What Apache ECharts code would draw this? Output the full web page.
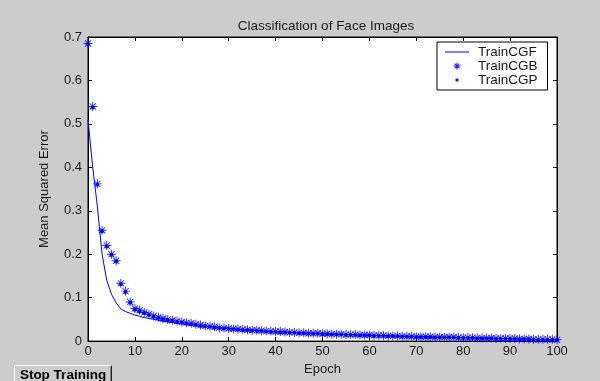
<!DOCTYPE html>
<html><head><meta charset="utf-8">
<script src="https://cdn.jsdelivr.net/npm/echarts@6/dist/echarts.min.js"></script>
<style>html,body{margin:0;padding:0;background:#cccccc}#c{width:600px;height:381px}</style>
</head><body><div id="c"></div>
<script>
const title = "Classification of Face Images";
const xName = "Epoch";
const yName = "Mean Squared Error";
const seriesNames = ["TrainCGF", "TrainCGB", "TrainCGP"];
const epochs = Array.from({length: 101}, (_, i) => i);
const cgf = [0.510,0.400,0.310,0.200,0.140,0.108,0.088,0.074,0.068,0.064,
0.060,0.057,0.054,0.052,0.050,0.048,0.046,0.044,0.043,0.041,
0.040,0.039,0.038,0.036,0.035,0.034,0.033,0.032,0.031,0.030,
0.029,0.028,0.027,0.026,0.026,0.025,0.024,0.024,0.023,0.022,
0.022,0.021,0.021,0.020,0.020,0.019,0.019,0.018,0.018,0.017,
0.017,0.017,0.016,0.016,0.015,0.015,0.015,0.014,0.014,0.014,
0.013,0.013,0.013,0.012,0.012,0.012,0.011,0.011,0.011,0.010,
0.010,0.010,0.010,0.009,0.009,0.009,0.009,0.008,0.008,0.008,
0.008,0.007,0.007,0.007,0.007,0.007,0.006,0.006,0.006,0.006,
0.005,0.005,0.005,0.005,0.004,0.004,0.004,0.004,0.003,0.003,0.003];
const cgb = [0.685,0.540,0.362,0.255,0.220,0.200,0.185,0.133,0.115,0.090,
0.075,0.071,0.066,0.062,0.058,0.055,0.052,0.050,0.048,0.046,
0.044,0.042,0.041,0.039,0.037,0.035,0.034,0.033,0.031,0.030,
0.029,0.028,0.028,0.027,0.026,0.025,0.025,0.024,0.023,0.023,
0.022,0.022,0.021,0.020,0.020,0.019,0.019,0.018,0.018,0.018,
0.017,0.017,0.016,0.016,0.016,0.015,0.015,0.015,0.014,0.014,
0.014,0.013,0.013,0.013,0.012,0.012,0.012,0.011,0.011,0.011,
0.010,0.010,0.010,0.010,0.009,0.009,0.009,0.009,0.009,0.008,
0.008,0.008,0.008,0.007,0.007,0.007,0.007,0.006,0.006,0.006,
0.006,0.006,0.005,0.005,0.005,0.004,0.004,0.004,0.004,0.004,0.003];
const cgp = [0.683,0.538,0.360,0.253,0.218,0.198,0.183,0.131,0.113,0.088,
0.072,0.068,0.064,0.060,0.056,0.053,0.050,0.048,0.046,0.044,
0.042,0.040,0.039,0.037,0.035,0.034,0.033,0.031,0.030,0.029,
0.028,0.027,0.026,0.025,0.025,0.024,0.023,0.023,0.022,0.021,
0.021,0.020,0.020,0.019,0.019,0.018,0.018,0.017,0.017,0.017,
0.016,0.016,0.015,0.015,0.015,0.014,0.014,0.014,0.013,0.013,
0.013,0.012,0.012,0.012,0.011,0.011,0.011,0.010,0.010,0.010,
0.009,0.009,0.009,0.009,0.008,0.008,0.008,0.008,0.008,0.007,
0.007,0.007,0.007,0.006,0.006,0.006,0.006,0.005,0.005,0.005,
0.005,0.005,0.004,0.004,0.004,0.003,0.003,0.003,0.003,0.003,0.002];
const xTicks = [0,10,20,30,40,50,60,70,80,90,100];
const yTicks = [0,0.1,0.2,0.3,0.4,0.5,0.6,0.7];

const star = 'path://M0 4.5 H10 V5.5 H0 Z M4.5 0 H5.5 V10 H4.5 Z M1.9 1.2 L8.8 8.1 L8.1 8.8 L1.2 1.9 Z M8.1 1.2 L8.8 1.9 L1.9 8.8 L1.2 8.1 Z';
const legLine = 'path://M0 4.5 H24 V5.5 H0 Z M0 0 L0.01 0 L0 0.01 Z M24 10 L23.99 10 L24 9.99 Z';
const legStar = 'path://M0 0 L0.01 0 L0 0.01 Z M10 10 L9.99 10 L10 9.99 Z M1.5 4.5 H8.5 V5.5 H1.5 Z M4.5 1.5 H5.5 V8.5 H4.5 Z M2.9 2.2 L7.8 7.1 L7.1 7.8 L2.2 2.9 Z M7.1 2.2 L7.8 2.9 L2.9 7.8 L2.2 7.1 Z';
const legDot = 'path://M0 0 L0.01 0 L0 0.01 Z M10 10 L9.99 10 L10 9.99 Z M5 3.3 A1.7 1.7 0 1 1 5 6.7 A1.7 1.7 0 1 1 5 3.3 Z';
const blue = '#0000ff';
const font = 'Liberation Sans, Arial, sans-serif';
const txt = '#1a1a1a';

const pair = (a) => epochs.map((e, i) => [e, a[i]]);
const chart = echarts.init(document.getElementById('c'), null, {renderer: 'canvas'});
const axX = (pos, showLabel) => ({
  type: 'value', position: pos, min: 0, max: 100, interval: 10,
  name: showLabel ? xName : '', nameLocation: 'middle', nameGap: 20,
  nameTextStyle: {color: txt, fontFamily: font, fontSize: 13},
  axisLine: {show: true, onZero: false, lineStyle: {color: '#000', width: 1}},
  axisTick: {show: true, inside: true, length: 4, lineStyle: {color: '#000'}},
  axisLabel: {show: showLabel, color: txt, fontFamily: font, fontSize: 13, margin: 4,
    formatter: v => xTicks.includes(v) ? String(v) : ''},
  splitLine: {show: false}
});
const axY = (pos, showLabel) => ({
  type: 'value', position: pos, min: 0, max: 0.7, interval: 0.1,
  name: showLabel ? yName : '', nameLocation: 'middle', nameGap: 37, nameRotate: 90,
  nameTextStyle: {color: txt, fontFamily: font, fontSize: 13},
  axisLine: {show: true, onZero: false, lineStyle: {color: '#000', width: 1}},
  axisTick: {show: true, inside: true, length: 4, lineStyle: {color: '#000'}},
  axisLabel: {show: showLabel, color: txt, fontFamily: font, fontSize: 13, margin: 6,
    formatter: v => { const t = yTicks.find(k => Math.abs(k - v) < 1e-9); return t === undefined ? '' : (t === 0 ? '0' : t.toFixed(1)); }},
  splitLine: {show: false}
});
chart.setOption({
  animation: false,
  backgroundColor: '#cccccc',
  title: {text: title, left: 321, textAlign: 'center', top: 14,
    textStyle: {fontFamily: font, fontSize: 13.5, fontWeight: 'normal', color: txt}},
  grid: {left: 88, right: 43, top: 37, bottom: 39, show: true, backgroundColor: '#ffffff', borderColor: '#000', borderWidth: 1},
  xAxis: [axX('bottom', true), axX('top', false)],
  yAxis: [axY('left', true), axY('right', false)],
  legend: {
    left: 437, top: 42, orient: 'vertical', align: 'left',
    backgroundColor: '#ffffff', borderColor: '#000', borderWidth: 1, borderRadius: 0,
    padding: [3, 10, 3, 8], itemWidth: 24, itemHeight: 10, itemGap: 0,
    textStyle: {fontFamily: font, fontSize: 13.5, lineHeight: 14, height: 14, color: txt, padding: [0, 0, 0, 4]},
    data: [
      {name: seriesNames[0], icon: legLine},
      {name: seriesNames[1], icon: legStar},
      {name: seriesNames[2], icon: legDot}
    ]
  },
  series: [
    {name: seriesNames[0], type: 'line', data: pair(cgf), symbol: 'none', showSymbol: false,
      lineStyle: {color: blue, width: 1}, itemStyle: {color: blue}, z: 3},
    {name: seriesNames[2], type: 'scatter', data: pair(cgp), symbol: 'circle', symbolSize: 4,
      itemStyle: {color: blue, opacity: 0.9}, clip: false, z: 4},
    {name: seriesNames[1], type: 'scatter', data: pair(cgb), symbol: star, symbolSize: 9,
      itemStyle: {color: blue, opacity: 0.85}, clip: false, z: 5}
  ],
  graphic: [
    {type: 'group', left: 12, top: 363, children: [
      {type: 'rect', shape: {x: 0, y: 0, width: 98, height: 20}, style: {fill: '#cccccc', stroke: null}},
      {type: 'line', shape: {x1: 0.5, y1: 0.5, x2: 97.5, y2: 0.5}, style: {stroke: '#ffffff', lineWidth: 1}},
      {type: 'line', shape: {x1: 0.5, y1: 0.5, x2: 0.5, y2: 20}, style: {stroke: '#ffffff', lineWidth: 1}},
      {type: 'line', shape: {x1: 97.5, y1: 0.5, x2: 97.5, y2: 20}, style: {stroke: '#202020', lineWidth: 1}},
      {type: 'line', shape: {x1: 96.5, y1: 1.5, x2: 96.5, y2: 20}, style: {stroke: '#808080', lineWidth: 1}},
      {type: 'text', style: {x: 49, y: 10, text: 'Stop Training', align: 'center', verticalAlign: 'middle',
        fontFamily: font, fontSize: 13.5, fontWeight: 'bold', fill: '#000'}}
    ]}
  ]
});
</script></body></html>
